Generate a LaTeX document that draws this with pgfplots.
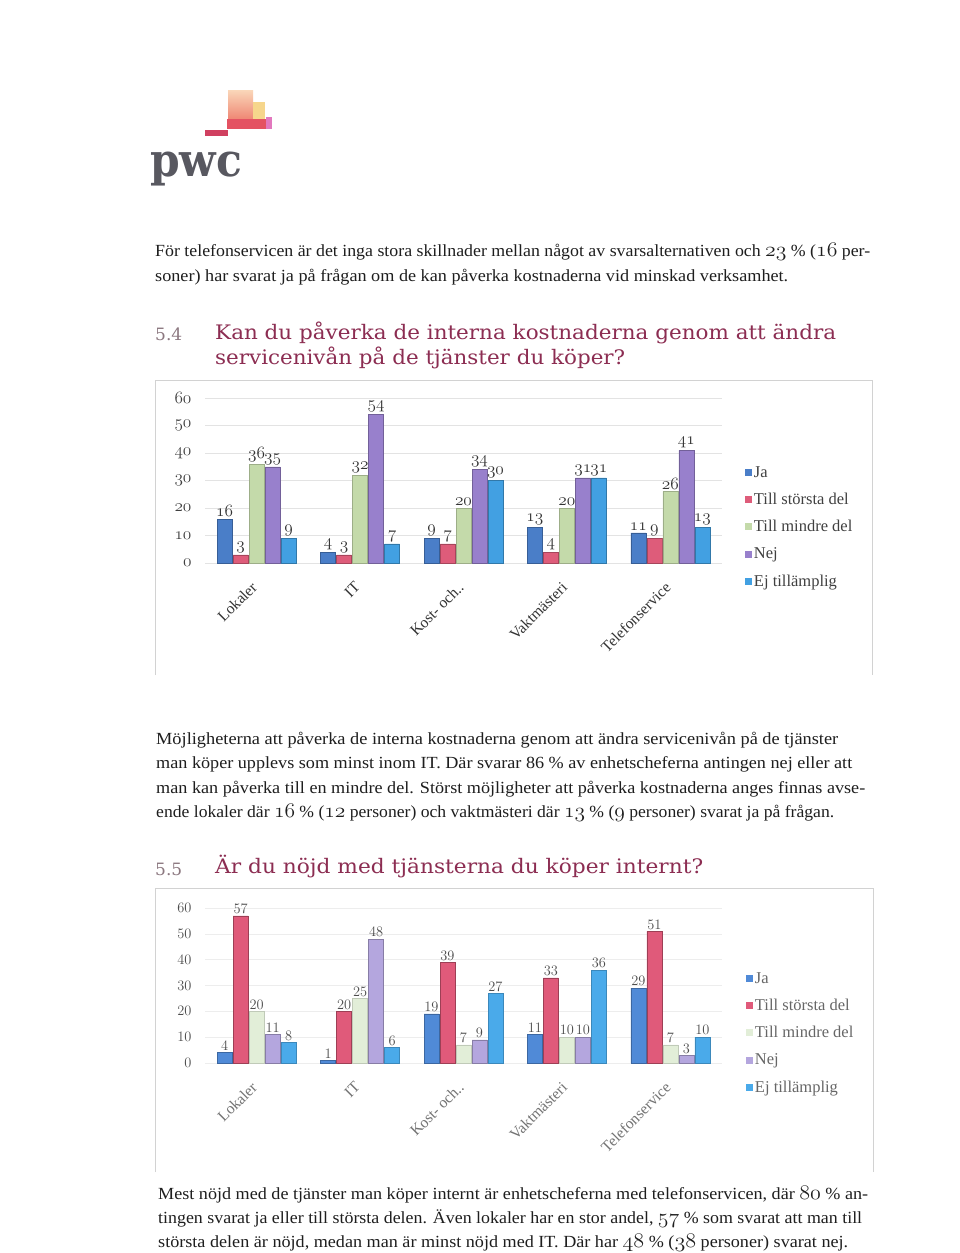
\documentclass[border=0pt]{standalone}
\usepackage{fontspec}
\setmainfont{Liberation Serif}
\newfontfamily\headfont{DejaVu Serif}
\usepackage{graphicx}
\usepackage{pgfplots}
\usepackage{pgfplotstable}
\pgfplotsset{compat=1.18}

\newcommand\osn[1]{{\fontencoding{OML}\fontfamily{cmm}\fontseries{m}\fontshape{it}\selectfont #1}}
\newcommand\osb[1]{{\fontencoding{OML}\fontfamily{cmm}\fontseries{m}\fontshape{it}\fontsize{19.5}{20}\selectfont #1}}

\definecolor{cJa}{RGB}{74,126,200}
\definecolor{cTS}{RGB}{222,92,122}
\definecolor{cTM}{RGB}{196,218,170}
\definecolor{cNej}{RGB}{152,128,204}
\definecolor{cEj}{RGB}{66,160,226}
\definecolor{cJb}{RGB}{80,138,215}
\definecolor{cTSb}{RGB}{224,90,122}
\definecolor{cTMb}{RGB}{226,238,216}
\definecolor{cNejb}{RGB}{180,166,222}
\definecolor{cEjb}{RGB}{74,170,234}
\definecolor{head}{RGB}{140,45,82}
\definecolor{headnum}{RGB}{140,120,128}
\definecolor{body}{RGB}{30,30,30}

\pgfplotstableread{
x ja ts tm nej ej
0 16 3 36 35 9
1 4 3 32 54 7
2 9 7 20 34 30
3 13 4 20 31 31
4 11 9 26 41 13
}\dataA

\pgfplotstableread{
x ja ts tm nej ej
0 4 57 20 11 8
1 1 20 25 48 6
2 19 39 7 9 27
3 11 33 10 10 36
4 29 51 7 3 10
}\dataB

\newcommand\tline[4]{\node[anchor=base west,inner sep=0pt,text=body,font=\fontsize{17}{20}\selectfont] at (#1pt,-#2pt) {\resizebox{#3pt}{\height}{#4}};}
\newcommand\headline[4]{\node[anchor=base west,inner sep=0pt,text=head,font=\headfont\fontsize{20}{24}\selectfont] at (#1pt,-#2pt) {\resizebox{#3pt}{\height}{#4}};}

\pgfplotsset{
  common/.style={
    scale only axis, width=517pt,
    xmin=-0.5, xmax=4.5, ymin=0, ymax=60,
    ybar=1pt, bar width=15pt,
    axis line style={draw=none},
    major tick length=0pt,
    ymajorgrids, 
    xtick={0,1,2,3,4},
    xticklabels={Lokaler,IT,Kost- och..,Vaktmästeri,Telefonservice},
    ytick={0,10,20,30,40,50,60},
    yticklabel style={xshift=-10pt},
    legend cell align=left,
    legend image code/.code={\fill[##1,draw=none] (0pt,-3.5pt) rectangle (7pt,3.5pt);},
    legend style={draw=none, fill=none, row sep=10.5pt, inner sep=0pt},
    every node near coord/.append style={inner sep=2pt},
  },
}

\begin{document}
\begin{tikzpicture}
\fill[white] (0pt,0pt) rectangle (960pt,-1253pt);

% logo
\shade[top color={rgb,255:red,250;green,215;blue,185}, bottom color={rgb,255:red,235;green,110;blue,95}] (228pt,-90pt) rectangle (253pt,-128pt);
\fill[color={rgb,255:red,246;green,214;blue,140}] (253pt,-102pt) rectangle (265pt,-120pt);
\fill[color={rgb,255:red,228;green,82;blue,98}] (227pt,-119pt) rectangle (266pt,-129pt);
\fill[color={rgb,255:red,226;green,120;blue,190}] (266pt,-117pt) rectangle (272pt,-129pt);
\fill[color={rgb,255:red,208;green,64;blue,96}] (205pt,-130pt) rectangle (228pt,-136pt);
\node[anchor=base west,inner sep=0pt,text={rgb,255:red,88;green,88;blue,96},font=\headfont\bfseries\fontsize{46}{50}\selectfont] at (150pt,-176pt) {\resizebox{92pt}{\height}{pwc}};

% paragraph 1
\tline{155}{256}{715}{För telefonservicen är det inga stora skillnader mellan något av svarsalternativen och \osb{23} \% (\osb{16} per-}
\tline{155}{281}{633}{soner) har svarat ja på frågan om de kan påverka kostnaderna vid minskad verksamhet.}

% heading 5.4
\node[anchor=base west,inner sep=0pt,text=headnum,font=\headfont\fontsize{17}{20}\selectfont] at (155pt,-340pt) {5.4};
\headline{215}{339}{621}{Kan du påverka de interna kostnaderna genom att ändra}
\headline{215}{364}{410}{servicenivån på de tjänster du köper?}

% frame 1
\draw[gray!35] (155pt,-675pt) -- (155pt,-380pt) -- (872pt,-380pt) -- (872pt,-675pt);

\begin{axis}[common,
  at={(205pt,-563pt)}, anchor=south west, height=165pt,
  grid style={gray!22},
  yticklabels={\osn{0},\osn{10},\osn{20},\osn{30},\osn{40},\osn{50},\osn{60}},
  yticklabel style={font=\fontsize{17}{17}\selectfont, text=black!75},
  xticklabel style={rotate=45, anchor=north east, inner sep=0pt, yshift=-8pt, xshift=-17pt, font=\fontsize{15.5}{15.5}\selectfont, text=black!80},
  nodes near coords={\osn{\pgfmathprintnumber[assume math mode=true]{\pgfplotspointmeta}}},
  every node near coord/.append style={font=\fontsize{17}{17}\selectfont, text=black!80},
  legend style={at={(1.044,0.60)}, anchor=north west, font=\fontsize{16.5}{16.5}\selectfont, text=black!75},
]
\addplot[fill=cJa, draw=cJa!75!black] table[x=x,y=ja] {\dataA};
\addplot[fill=cTS, draw=cTS!75!black] table[x=x,y=ts] {\dataA};
\addplot[fill=cTM, draw=cTM!80!black] table[x=x,y=tm] {\dataA};
\addplot[fill=cNej, draw=cNej!75!black] table[x=x,y=nej] {\dataA};
\addplot[fill=cEj, draw=cEj!75!black] table[x=x,y=ej] {\dataA};
\legend{Ja,Till största del,Till mindre del,Nej,Ej tillämplig}
\end{axis}

% paragraph 2
\tline{156}{744}{682}{Möjligheterna att påverka de interna kostnaderna genom att ändra servicenivån på de tjänster}
\tline{156}{768}{696}{man köper upplevs som minst inom IT. Där svarar 86 \% av enhetscheferna antingen nej eller att}
\tline{156}{793}{709}{man kan påverka till en mindre del. Störst möjligheter att påverka kostnaderna anges finnas avse-}
\tline{156}{817}{678}{ende lokaler där \osb{16} \% (\osb{12} personer) och vaktmästeri där \osb{13} \% (\osb{9} personer) svarat ja på frågan.}

% heading 5.5
\node[anchor=base west,inner sep=0pt,text=headnum,font=\headfont\fontsize{17}{20}\selectfont] at (155pt,-875pt) {5.5};
\headline{215}{873}{488}{Är du nöjd med tjänsterna du köper internt?}

% frame 2
\draw[gray!35] (155pt,-1172pt) -- (155pt,-888pt) -- (873pt,-888pt) -- (873pt,-1172pt);

\begin{axis}[common,
  at={(205pt,-1063pt)}, anchor=south west, height=155pt,
  grid style={gray!14},
  yticklabel style={font=\fontsize{15}{15}\selectfont, text=black!70},
  xticklabel style={rotate=45, anchor=north east, inner sep=0pt, yshift=-8pt, xshift=-17pt, font=\fontsize{15.5}{15.5}\selectfont, text=black!55},
  nodes near coords,
  every node near coord/.append style={font=\fontsize{15}{15}\selectfont, text=black!70},
  legend style={at={(1.046,0.6)}, anchor=north west, font=\fontsize{16.5}{16.5}\selectfont, text=black!60},
]
\addplot[fill=cJb, draw=cJb!75!black] table[x=x,y=ja] {\dataB};
\addplot[fill=cTSb, draw=cTSb!70!black] table[x=x,y=ts] {\dataB};
\addplot[fill=cTMb, draw=cTMb!85!black] table[x=x,y=tm] {\dataB};
\addplot[fill=cNejb, draw=cNejb!75!black] table[x=x,y=nej] {\dataB};
\addplot[fill=cEjb, draw=cEjb!80!black] table[x=x,y=ej] {\dataB};
\legend{Ja,Till största del,Till mindre del,Nej,Ej tillämplig}
\end{axis}

% paragraph 3
\tline{158}{1199}{710}{Mest nöjd med de tjänster man köper internt är enhetscheferna med telefonservicen, där \osb{80} \% an-}
\tline{158}{1223}{704}{tingen svarat ja eller till största delen. Även lokaler har en stor andel, \osb{57} \% som svarat att man till}
\tline{158}{1247}{690}{största delen är nöjd, medan man är minst nöjd med IT. Där har \osb{48} \% (\osb{38} personer) svarat nej.}
\end{tikzpicture}
\end{document}
